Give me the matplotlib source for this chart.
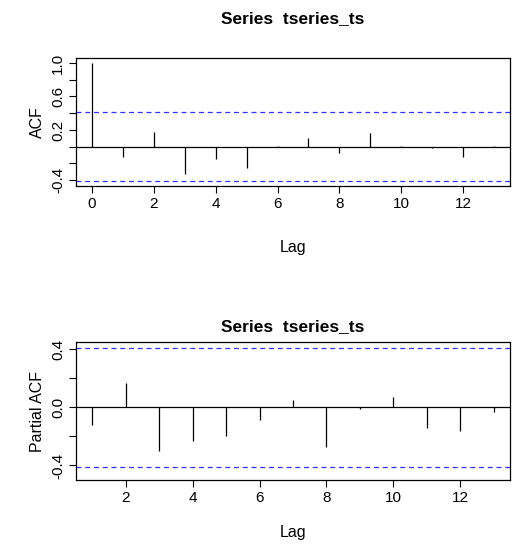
import matplotlib
matplotlib.use("Agg")
import matplotlib.pyplot as plt
import numpy as np

acf_lags = list(range(0, 14))
acf_vals = [1.0, -0.12, 0.18, -0.33, -0.15, -0.25, 0.01, 0.10, -0.08, 0.16, 0.01, -0.01, -0.12, 0.01]
pacf_lags = list(range(1, 14))
pacf_vals = [-0.12, 0.17, -0.30, -0.23, -0.20, -0.09, 0.05, -0.27, -0.01, 0.07, -0.14, -0.16, -0.03]
conf = 0.41
title = "Series  tseries_ts"

plt.rcParams['font.family'] = ['Liberation Sans', 'DejaVu Sans']
W, H = 523, 550
fig = plt.figure(figsize=(W/100, H/100), dpi=100)

def ax_at(l, t, r, b):
    return fig.add_axes([l/W, 1-b/H, (r-l)/W, (b-t)/H])

def style(ax):
    for s in ax.spines.values():
        s.set_linewidth(0.9)
    ax.tick_params(direction='out', length=5, width=0.8, labelsize=11, pad=3)

ax1 = ax_at(76, 58, 510, 186)
ax1.vlines(acf_lags, 0, acf_vals, color='black', lw=0.9)
ax1.axhline(0, color='black', lw=0.9)
for c in (conf, -conf):
    ax1.axhline(c, color='#3333ff', ls=(0, (4, 3)), lw=0.9)
ax1.set_xlim(-0.52, 13.52)
ax1.set_ylim(-0.47, 1.06)
ax1.set_xticks(range(0, 13, 2))
yt = [-0.4, -0.2, 0.0, 0.2, 0.4, 0.6, 0.8, 1.0]
ax1.set_yticks(yt)
ax1.set_yticklabels(['-0.4', '', '', '0.2', '', '0.6', '', '1.0'], rotation=90, va='center')
ax1.set_ylabel('ACF', fontsize=11.5)
ax1.set_xlabel('Lag', fontsize=11.5, labelpad=21)
ax1.set_title(title, fontsize=12.5, fontweight='bold', pad=25)
style(ax1)

ax2 = ax_at(76, 342, 510, 480)
ax2.vlines(pacf_lags, 0, pacf_vals, color='black', lw=0.9)
ax2.axhline(0, color='black', lw=0.9)
for c in (conf, -conf):
    ax2.axhline(c, color='#3333ff', ls=(0, (4, 3)), lw=0.9)
ax2.set_xlim(0.52, 13.48)
ax2.set_ylim(-0.5, 0.45)
ax2.set_xticks(range(2, 13, 2))
ax2.set_yticks([-0.4, -0.2, 0.0, 0.2, 0.4])
ax2.set_yticklabels(['-0.4', '', '0.0', '', '0.4'], rotation=90, va='center')
ax2.set_ylabel('Partial ACF', fontsize=11.5)
ax2.set_xlabel('Lag', fontsize=11.5, labelpad=14)
ax2.set_title(title, fontsize=12.5, fontweight='bold', pad=8)
style(ax2)

fig.savefig('out.png', dpi=100)
